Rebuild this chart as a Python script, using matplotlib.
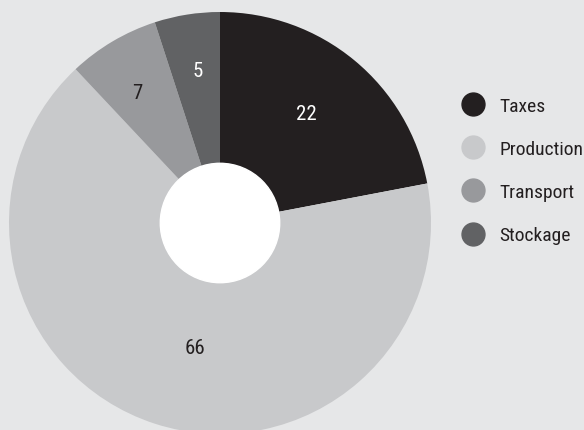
import matplotlib
matplotlib.use("Agg")
import matplotlib.pyplot as plt
from matplotlib import font_manager
import numpy as np
from matplotlib.lines import Line2D

categories = ["Taxes", "Production", "Transport", "Stockage"]
values = [22, 66, 7, 5]
colors = ["#231f20", "#c8c9cb", "#98999c", "#616264"]
label_colors = ["white", "#231f20", "#231f20", "white"]
# label distance from centre (fraction of radius) and angular nudge (deg)
label_dist = [0.66, 0.60, 0.735, 0.73]
label_nudge = [1.3, 6.6, 1.8, -0.8]

bg = "#e6e7e8"

# pick a narrow font if one is installed
names = {f.name for f in font_manager.fontManager.ttflist}
stretch = "normal"
family = ["DejaVu Sans"]
for cand in ["Liberation Sans Narrow", "Roboto Condensed", "Open Sans Condensed",
             "Noto Sans Condensed", "DejaVu Sans Condensed"]:
    if cand in names:
        family = [cand, "DejaVu Sans"]
        break
else:
    if any(f.name == "DejaVu Sans" and f.stretch == "condensed"
           for f in font_manager.fontManager.ttflist):
        stretch = "condensed"
plt.rcParams["font.family"] = family
plt.rcParams["font.stretch"] = stretch

W, H = 584, 431
fig = plt.figure(figsize=(W / 100, H / 100), dpi=100)
fig.patch.set_facecolor(bg)

cx, cy, R = 220, 207, 211
ax = fig.add_axes([(cx - R) / W, (cy - R) / H, 2 * R / W, 2 * R / H])
ax.axis("off")

wedges, _ = ax.pie(values, colors=colors, startangle=90, counterclock=False,
                   radius=1, wedgeprops=dict(linewidth=0))
ax.set_xlim(-1, 1)
ax.set_ylim(-1, 1)
ax.set_aspect("equal")

# white hole in the middle
ax.add_patch(plt.Circle((0, 0), 0.283, color="white", zorder=5))

for w, v, d, n, tc in zip(wedges, values, label_dist, label_nudge, label_colors):
    ang = np.deg2rad((w.theta1 + w.theta2) / 2 + n)
    ax.text(d * np.cos(ang), d * np.sin(ang), str(v), ha="center", va="center",
            fontsize=15, color=tc, zorder=6)

handles = [Line2D([0], [0], marker="o", linestyle="none", markersize=16.5,
                  markerfacecolor=c, markeredgecolor=c) for c in colors]
fig.legend(handles, categories, loc="center left",
           bbox_to_anchor=(454 / W, 1 - 171.5 / H), frameon=False,
           fontsize=14, labelspacing=1.3, handletextpad=0.75,
           handlelength=1.2, borderaxespad=0, labelcolor="#231f20")

fig.savefig("out.png", dpi=100, facecolor=bg)
